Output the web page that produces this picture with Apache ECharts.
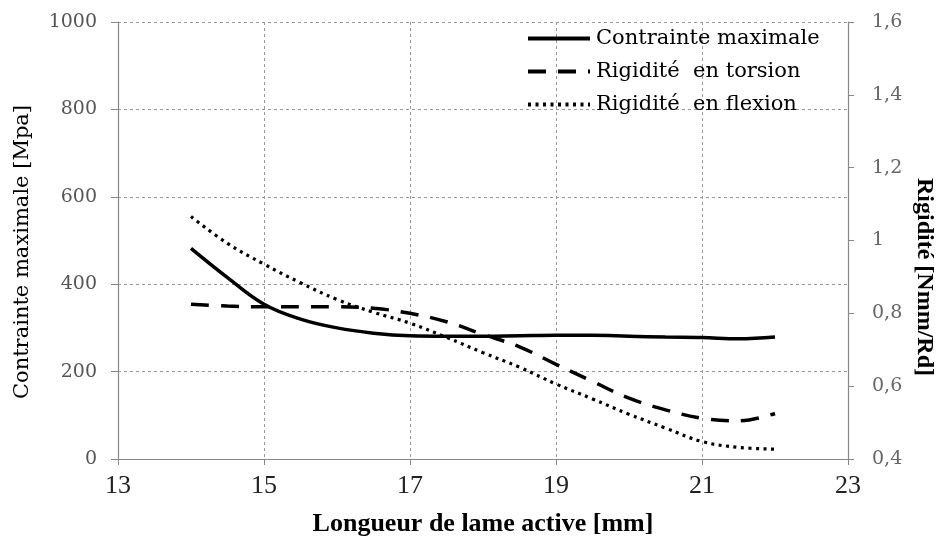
<!DOCTYPE html>
<html>
<head>
<meta charset="utf-8">
<script src="https://cdn.jsdelivr.net/npm/echarts@6/dist/echarts.min.js"></script>
<style>html,body{margin:0;padding:0;background:#fff}#c{width:937px;height:544px}</style>
</head>
<body>
<div id="c"></div>
<script>
var xValues = [14, 14.5, 15, 15.5, 16, 16.5, 17, 17.5, 18, 18.5, 19, 19.5, 20, 20.5, 21, 21.5, 22];
var contrainte = [482, 415, 354, 320, 300, 288, 282, 281, 281, 282, 283, 283, 281, 279, 278, 275, 279];
var torsion = [0.825, 0.820, 0.818, 0.818, 0.818, 0.814, 0.800, 0.777, 0.742, 0.708, 0.660, 0.613, 0.567, 0.535, 0.512, 0.505, 0.525];
var flexion = [1.066, 0.992, 0.935, 0.884, 0.838, 0.803, 0.773, 0.734, 0.692, 0.652, 0.606, 0.565, 0.523, 0.485, 0.448, 0.432, 0.427];
var seriesNames = ['Contrainte maximale', 'Rigidité  en torsion', 'Rigidité  en flexion'];
var xTitle = 'Longueur de lame active [mm]';
var yLeftTitle = 'Contrainte maximale [Mpa]';
var yRightTitle = 'Rigidité [Nmm/Rd]';

function pairs(vals) { return xValues.map(function (x, i) { return [x, vals[i]]; }); }
var serif = 'Liberation Serif';
var wide = 'DejaVu Serif';
var chart = echarts.init(document.getElementById('c'), null, {renderer: 'canvas'});
chart.setOption({
  animation: false,
  backgroundColor: '#fff',
  textStyle: {fontFamily: serif},
  grid: {left: 118, right: 89, top: 22, bottom: 85, containLabel: false},
  legend: {
    orient: 'vertical', left: 521, top: 23, itemWidth: 62, itemHeight: 20, itemGap: 12,
    itemStyle: {opacity: 0},
    lineStyle: {width: 4},
    textStyle: {fontFamily: wide, fontSize: 21, color: '#000', padding: [0, 0, 0, 1]},
    data: seriesNames
  },
  graphic: [{
    type: 'text', x: 23, y: 252, rotation: Math.PI / 2,
    style: {text: yLeftTitle, fontFamily: wide, fontSize: 21, fill: '#000', align: 'center', verticalAlign: 'middle'}
  }, {
    type: 'text', x: 924, y: 277, rotation: -Math.PI / 2,
    style: {text: yRightTitle, fontFamily: serif, fontSize: 24, fontWeight: 'bold', fill: '#000', align: 'center', verticalAlign: 'middle'}
  }],
  xAxis: {
    type: 'value', min: 13, max: 23, interval: 2,
    name: xTitle, nameLocation: 'middle', nameGap: 52,
    nameTextStyle: {fontFamily: serif, fontSize: 26, fontWeight: 'bold', color: '#000'},
    axisLine: {show: true, lineStyle: {color: '#888', width: 1.2}},
    axisTick: {show: true, inside: false, length: 6, lineStyle: {color: '#888'}},
    axisLabel: {fontFamily: serif, fontSize: 26, color: '#222', margin: 14},
    splitLine: {show: true, lineStyle: {color: '#999', type: [3, 3], width: 1}}
  },
  yAxis: [{
    type: 'value', min: 0, max: 1000, interval: 200, position: 'left',
    axisLine: {show: true, lineStyle: {color: '#888', width: 1.2}},
    axisTick: {show: true, length: 7, lineStyle: {color: '#888'}},
    axisLabel: {fontFamily: wide, fontSize: 19, color: '#555', margin: 21,
      formatter: function (v) { return String(v); }},
    splitLine: {show: true, lineStyle: {color: '#999', type: [3, 3], width: 1}}
  }, {
    type: 'value', min: 0.4, max: 1.6, interval: 0.2, position: 'right',
    axisLine: {show: true, lineStyle: {color: '#888', width: 1.2}},
    axisTick: {show: true, length: 6, lineStyle: {color: '#888'}},
    axisLabel: {fontFamily: wide, fontSize: 19, color: '#666', margin: 24,
      formatter: function (v) { return String(Math.round(v * 10) / 10).replace('.', ','); }},
    splitLine: {show: false}
  }],
  series: [{
    name: seriesNames[0], type: 'line', yAxisIndex: 0, data: pairs(contrainte),
    smooth: 0.4, symbol: 'none', lineStyle: {color: '#000', width: 3.5, type: 'solid'}, itemStyle: {color: '#000'}
  }, {
    name: seriesNames[1], type: 'line', yAxisIndex: 1, data: pairs(torsion),
    smooth: 0.4, symbol: 'none', lineStyle: {color: '#000', width: 3.5, type: [18, 12]}, itemStyle: {color: '#000'}
  }, {
    name: seriesNames[2], type: 'line', yAxisIndex: 1, data: pairs(flexion),
    smooth: 0.4, symbol: 'none', lineStyle: {color: '#000', width: 3.2, type: [3, 4.5]}, itemStyle: {color: '#000'}
  }]
});
</script>
</body>
</html>
